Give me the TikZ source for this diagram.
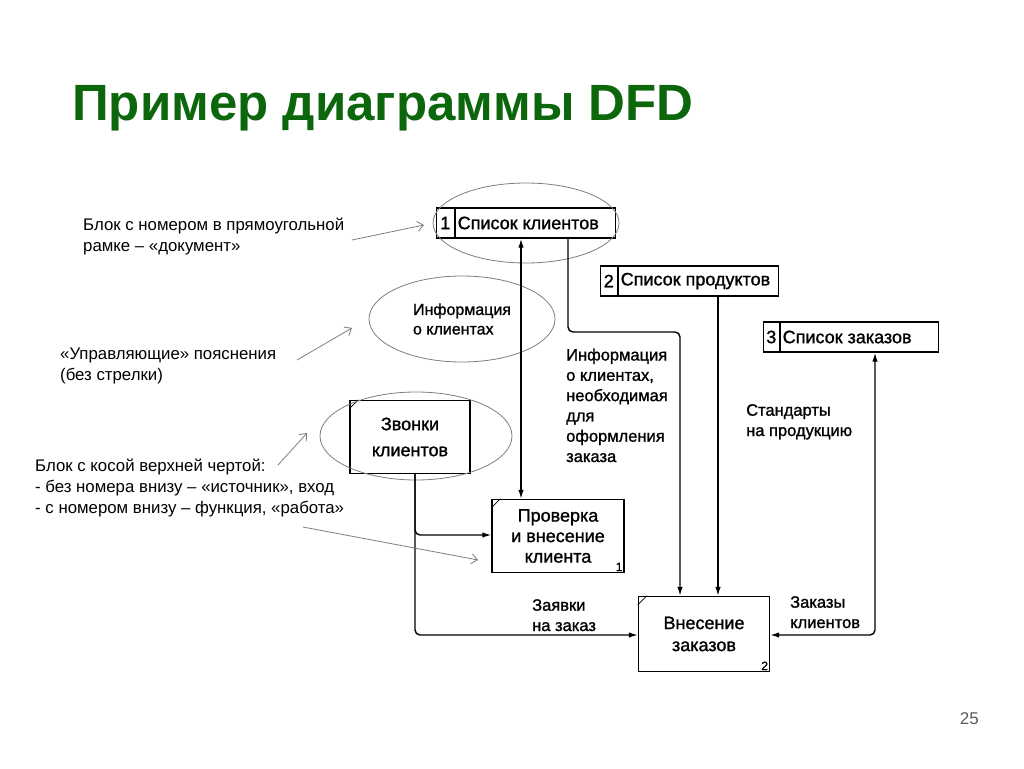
\documentclass[tikz,border=0pt]{standalone}
\usepackage{fontspec}
\setmainfont{Liberation Sans}
\newfontfamily\scanfont{Liberation Sans}[FakeBold=1.2]
\usetikzlibrary{shapes.multipart,shapes.geometric,arrows.meta}
\definecolor{titlegreen}{RGB}{12,102,12}
\definecolor{notegray}{RGB}{125,125,125}

\begin{document}
\begin{tikzpicture}[x=1pt,y=-1pt,
  flow/.style={line width=1.4pt,rounded corners=5pt,-{Latex[length=9pt,width=5.5pt]}},
  both/.style={line width=1.4pt,rounded corners=5pt,{Latex[length=9pt,width=5.5pt]}-{Latex[length=9pt,width=5.5pt]}},
  store/.style={draw,line width=1.4pt,rectangle split,rectangle split horizontal,rectangle split parts=2,
    inner xsep=2pt,inner ysep=0pt,minimum height=30pt,font=\scanfont\fontsize{18}{20}\selectfont},
  work/.style={draw,line width=1.4pt,align=center,inner sep=0pt},
  mark1/.style={font=\scanfont\fontsize{12}{12}\selectfont,anchor=south east,inner sep=2pt},
  lbl/.style={align=left,anchor=base west,inner sep=0pt,font=\scanfont\fontsize{16.5}{20.3}\selectfont},
  note/.style={align=left,anchor=base west,inner sep=0pt,font=\fontsize{16.8}{21}\selectfont},
  hl/.style={draw=notegray,line width=0.8pt,ellipse,inner sep=0pt},
  pointer/.style={draw=notegray,line width=0.8pt,-{Straight Barb[length=6pt,width=10pt]}}]
\useasboundingbox (0,0) rectangle (1024,768);

% title
\node[anchor=base west,inner sep=0pt,text=titlegreen,font=\fontsize{51}{60}\selectfont\bfseries] (ttl) at (72,120) {Пример диаграммы DFD};

% notes on the left
\node[note] (n1) at (83,251) {Блок с номером в прямоугольной\\рамке – «документ»};
\node[note] (n2) at (60,380) {«Управляющие» пояснения\\(без стрелки)};
\node[note] (n3) at (35,513) {Блок с косой верхней чертой:\\- без номера внизу – «источник», вход\\- с номером внизу – функция, «работа»};

% stores
\node[store] (d1) at (526,223) {\makebox[14pt]{1}\nodepart{two}\makebox[156pt][l]{Список клиентов}};
\node[store] (d2) at (689.5,281) {\makebox[13pt]{2}\nodepart{two}\makebox[156pt][l]{Список продуктов}};
\node[store] (d3) at (851,337) {\makebox[12pt]{3}\nodepart{two}\makebox[154pt][l]{Список заказов}};

% source and works
\node[work,minimum width=120pt,minimum height=73pt,font=\scanfont\fontsize{18}{26}\selectfont] (zv) at (410,437) {Звонки\\клиентов};
\node[work,minimum width=132pt,minimum height=73pt,font=\scanfont\fontsize{18}{20.5}\selectfont] (pr) at (558,536) {Проверка\\и внесение\\клиента};
\node[work,minimum width=131pt,minimum height=75pt,font=\scanfont\fontsize{18}{22}\selectfont] (vn) at (704,634) {Внесение\\заказов};
\node[mark1] (pr1) at (pr.south east) {1};
\node[mark1] (vn2) at (vn.south east) {2};
\foreach \n in {zv,pr,vn}
  \draw[line width=0.7pt] ([yshift=-9pt]\n.north west) -- ([xshift=9pt]\n.north west);

% highlight ellipses
\node[hl,minimum width=186pt,minimum height=80pt] (e1) at (526,223) {};
\node[hl,minimum width=186pt,minimum height=86pt,align=left,font=\scanfont\fontsize{16}{19.5}\selectfont] (e2) at (462,319) {Информация\\о клиентах};
\node[hl,minimum width=192pt,minimum height=88pt] (e3) at (416,436) {};

% bends
\coordinate (k0) at (521,300);
\coordinate (k1) at (568,332);
\coordinate (k2) at (680,332);
\coordinate (k3) at (718,400);
\coordinate (k4) at (875,635);
\coordinate (k5) at (415,535);
\coordinate (k6) at (415,635);

% flows
\draw[both] (d1.south -| k0) -- (pr.north -| k0);
\draw[flow] (d1.south -| k1) -- (k1) -- (k2) -- (vn.north -| k2);
\draw[flow] (d2.south -| k3) -- (vn.north -| k3);
\draw[both] (vn.east |- k4) -- (k4) -- (d3.south -| k4);
\draw[flow] (zv.south -| k6) -- (k6) -- (vn.west |- k6);
\draw[flow] (zv.south -| k5) -- (k5) -- (pr.west |- k5);

% flow labels
\node[lbl] (f1) at (566,462) {Информация\\о клиентах,\\необходимая\\для\\оформления\\заказа};
\node[lbl] (f2) at (746,436) {Стандарты\\на продукцию};
\node[lbl] (f3) at (790,628) {Заказы\\клиентов};
\node[lbl] (f4) at (532,631) {Заявки\\на заказ};

% pointers
\coordinate (p1a) at (352,240); \coordinate (p1b) at (424,225);
\coordinate (p2a) at (297,360); \coordinate (p2b) at (352,328);
\coordinate (p3a) at (278,465); \coordinate (p3b) at (307,433);
\coordinate (p4a) at (303,527); \coordinate (p4b) at (478,560);
\draw[pointer] (p1a) -- (p1b);
\draw[pointer] (p2a) -- (p2b);
\draw[pointer] (p3a) -- (p3b);
\draw[pointer] (p4a) -- (p4b);

% slide number
\node[anchor=base east,inner sep=0pt,text=black!65,font=\fontsize{17}{20}\selectfont] (num) at (979,724) {25};
\end{tikzpicture}
\end{document}
